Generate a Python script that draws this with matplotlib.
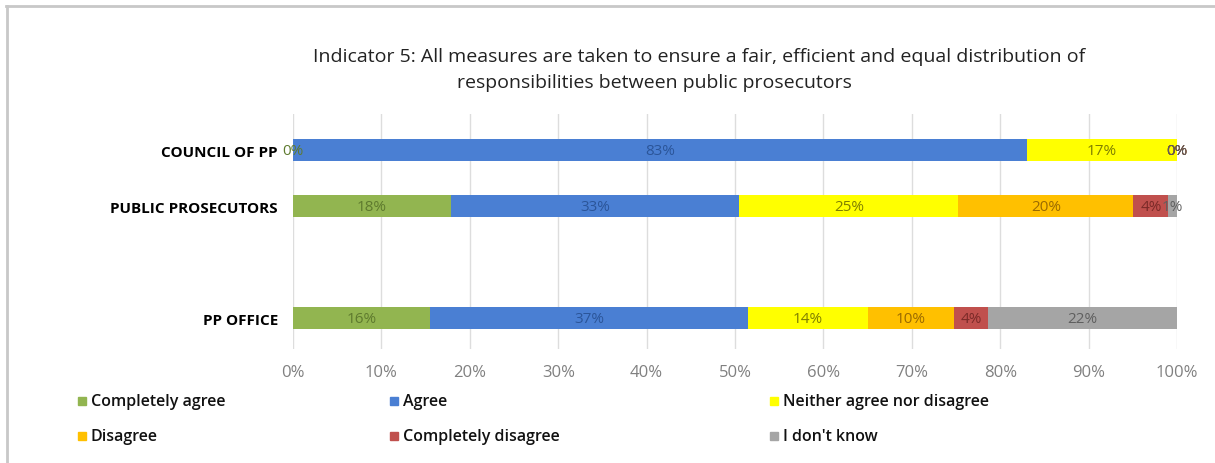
import numpy as np
import matplotlib.pyplot as plt
from matplotlib.patches import Rectangle
from matplotlib.lines import Line2D

# Survey answers per respondent group (percent of answers)
groups = ["COUNCIL OF PP", "PUBLIC PROSECUTORS", "", "PP OFFICE"]
answers = ["Completely agree", "Agree", "Neither agree nor disagree",
           "Disagree", "Completely disagree", "I don't know"]
council = [0, 83, 17, 0, 0, 0]
prosecutors = [18, 33, 25, 20, 4, 1]
office = [16, 37, 14, 10, 4, 22]
ticks = [0, 10, 20, 30, 40, 50, 60, 70, 80, 90, 100]

colors = ["#92B550", "#4A7FD3", "#FFFF00", "#FFC000", "#C0504D", "#A5A5A5"]
label_colors = ["#5E7A2E", "#2B5599", "#7F7F00", "#9A6A00", "#7A2A28", "#5F5F5F"]

plt.rcParams['font.family'] = ['Open Sans', 'DejaVu Sans']

fig = plt.figure(figsize=(12.15, 4.64), dpi=100)
ax = fig.add_axes([0.2412, 0.2461, 0.7276, 0.5069])

rows = {0: council, 1: prosecutors, 3: office}
for yi, vals in rows.items():
    vals = np.array(vals, dtype=float)
    shares = vals / vals.sum() * 100  # 100% stacked
    left = 0.0
    for k, (v, s) in enumerate(zip(vals, shares)):
        ax.barh(yi, s, left=left, height=0.39, color=colors[k], zorder=2)
        ax.text(left + s / 2, yi, f"{v:.0f}%", ha='center', va='center',
                fontsize=11, color=label_colors[k], zorder=3)
        left += s

ax.set_xlim(0, 100)
ax.set_ylim(3.55, -0.65)
ax.set_xticks(ticks)
ax.set_xticklabels([f"{t}%" for t in ticks])
ax.set_yticks(range(len(groups)))
ax.set_yticklabels(groups, fontweight='bold', fontsize=11)
ax.tick_params(axis='x', length=0, pad=11, labelsize=12, labelcolor='#808080')
ax.tick_params(axis='y', length=0, pad=11)
ax.grid(axis='x', color='#DDDDDD', lw=1, zorder=0)
for sp in ax.spines.values():
    sp.set_visible(False)

# title, two centred lines
fig.text(699 / 1215, 1 - 57 / 464,
         "Indicator 5: All measures are taken to ensure a fair, efficient and equal distribution of",
         ha='center', va='center', fontsize=14, color='#222222')
fig.text(654 / 1215, 1 - 83 / 464, "responsibilities between public prosecutors",
         ha='center', va='center', fontsize=14, color='#222222')

# legend, three columns by two rows
legend_x = [78, 390, 770, 78, 390, 770]
legend_y = [402, 402, 402, 437, 437, 437]
for k, (x, y) in enumerate(zip(legend_x, legend_y)):
    fig.patches.append(Rectangle((x / 1215, 1 - (y + 4) / 464), 8 / 1215, 8 / 464,
                                 transform=fig.transFigure, color=colors[k]))
    fig.text((x + 13) / 1215, 1 - y / 464, answers[k], ha='left', va='center',
             fontsize=11.5, fontweight='semibold', color='#111111')

# outer chart frame
fig.add_artist(Line2D([6 / 1215, 1], [1 - 7 / 464, 1 - 7 / 464],
                      transform=fig.transFigure, color='#C8C8C8', lw=2))
fig.add_artist(Line2D([7 / 1215, 7 / 1215], [0, 1 - 7 / 464],
                      transform=fig.transFigure, color='#C8C8C8', lw=2))

fig.savefig("out.png", dpi=100)
